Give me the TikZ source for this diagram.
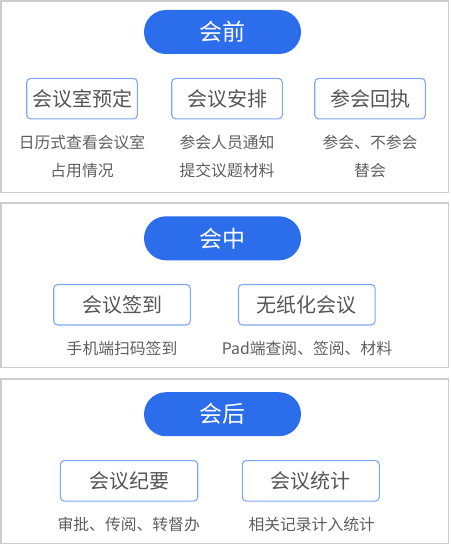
\documentclass[tikz,border=0pt]{standalone}
\usepackage{fontspec}
\setmainfont{Noto Sans CJK SC}
\usetikzlibrary{positioning}
\definecolor{pillblue}{HTML}{2B6DEB}
\definecolor{boxblue}{HTML}{7DA6F8}
\definecolor{panelgray}{HTML}{CCCCCC}
\definecolor{itemgray}{HTML}{555555}
\definecolor{notegray}{HTML}{5E5E5E}

\begin{document}
\begin{tikzpicture}[x=1pt,y=-1pt,
    panel/.style={draw=panelgray,line width=1.2pt},
    pill/.style={fill=pillblue,rounded corners=22pt,minimum width=157pt,minimum height=44pt,
        inner sep=0pt,text=white,font=\fontsize{23}{23}\selectfont},
    item/.style={draw=boxblue,line width=1.1pt,rounded corners=4pt,minimum height=40.5pt,
        inner sep=0pt,text=itemgray,font=\fontsize{20}{20}\selectfont},
    note/.style={text=notegray,align=center,inner sep=0pt,font=\fontsize{15.8}{27.3}\selectfont}]
    \useasboundingbox (0,0) rectangle (450,545);
    % panels
    \draw[panel] (1,1) rectangle (448.5,192.5);
    \draw[panel] (1,203) rectangle (448.5,367.5);
    \draw[panel] (1,379) rectangle (448.5,543.5);
    % before
    \node[pill] (before) at (222.5,32) {会前};
    \node[item,minimum width=110.6pt] (room) at (82,98.7) {会议室预定};
    \node[item,minimum width=110.6pt] (plan) at (227,98.7) {会议安排};
    \node[item,minimum width=110.6pt] (reply) at (370,98.7) {参会回执};
    \node[note] (roomnote) at (82,156.4) {日历式查看会议室\\占用情况};
    \node[note] (plannote) at (227,156.4) {参会人员通知\\提交议题材料};
    \node[note] (replynote) at (370,156.4) {参会、不参会\\替会};
    % during
    \node[pill] (during) at (222.5,238.3) {会中};
    \node[item,minimum width=136.6pt] (signin) at (122,304.7) {会议签到};
    \node[item,minimum width=136.6pt] (paperless) at (306.8,304.7) {无纸化会议};
    \node[note] (signinnote) at (122,348.3) {手机端扫码签到};
    \node[note] (paperlessnote) at (307,348.3) {Pad端查阅、签阅、材料};
    % after
    \node[pill] (after) at (222.5,414.2) {会后};
    \node[item,minimum width=137.4pt] (minutes) at (129,480.8) {会议纪要};
    \node[item,minimum width=137pt] (stats) at (310.8,480.8) {会议统计};
    \node[note] (minutesnote) at (128.7,524) {审批、传阅、转督办};
    \node[note] (statsnote) at (311.7,524) {相关记录计入统计};
\end{tikzpicture}
\end{document}
